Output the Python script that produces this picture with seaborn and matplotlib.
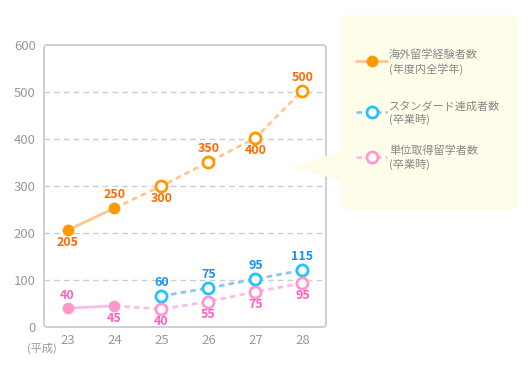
import matplotlib
matplotlib.use("Agg")
import matplotlib.pyplot as plt
import numpy as np
import pandas as pd
import seaborn as sns
from matplotlib.patches import FancyBboxPatch, Polygon
from matplotlib.lines import Line2D

# years (平成)
years = [23, 24, 25, 26, 27, 28]

# 海外留学経験者数 (年度内全学年)
abroad_vals = [206, 253, 300, 351, 402, 503]
abroad_labels = ["205", "250", "300", "350", "400", "500"]
abroad_label_pos = ["below", "above", "below", "above", "below", "above"]

# スタンダード達成者数 (卒業時)  -- starts at 25
std_years = [25, 26, 27, 28]
std_vals = [66, 83, 102, 121]
std_labels = ["60", "75", "95", "115"]
std_label_pos = ["above", "above", "above", "above"]

# 単位取得留学者数 (卒業時)
credit_vals = [40, 45, 38, 54, 75, 93]
credit_labels = ["40", "45", "40", "55", "75", "95"]
credit_label_pos = ["above", "below", "below", "below", "below", "below"]

yticks = [0, 100, 200, 300, 400, 500, 600]
legend_texts = ["海外留学経験者数\n(年度内全学年)",
                "スタンダード達成者数\n(卒業時)",
                "単位取得留学者数\n(卒業時)"]

sns.set_style("white")
plt.rcParams['font.family'] = ['Noto Sans CJK JP', 'DejaVu Sans']

fig = plt.figure(figsize=(5.32, 3.72), dpi=100)
ax = fig.add_axes([44 / 532, 45 / 372, 282 / 532, 282 / 372])
ax.set_facecolor("none")

# legend box with pointer
fig.patches.append(FancyBboxPatch((341 / 532, 1 - 210 / 372), 177 / 532, 195 / 372,
                                  boxstyle="round,pad=0,rounding_size=0.015",
                                  transform=fig.transFigure, facecolor="#fefdea",
                                  edgecolor="none", zorder=0))
fig.patches.append(Polygon([(290 / 532, 1 - 167 / 372), (342 / 532, 1 - 151 / 372),
                            (342 / 532, 1 - 181 / 372)], closed=True,
                           transform=fig.transFigure, facecolor="#fefdea",
                           edgecolor="none", zorder=0))

series = [
    dict(x=years, y=abroad_vals, labels=abroad_labels, pos=abroad_label_pos,
         line="#ffc690", marker="#ff9900", text="#ff6a00", n_solid=2),
    dict(x=std_years, y=std_vals, labels=std_labels, pos=std_label_pos,
         line="#88c8f8", marker="#22c4ff", text="#1a90f0", n_solid=0),
    dict(x=years, y=credit_vals, labels=credit_labels, pos=credit_label_pos,
         line="#ffbbe8", marker="#ff99cc", text="#ff5fc0", n_solid=2),
]

for s in series:
    df = pd.DataFrame({"x": s["x"], "y": s["y"]})
    n = s["n_solid"]
    if n > 1:
        sns.lineplot(data=df.iloc[:n], x="x", y="y", ax=ax, color=s["line"],
                     linewidth=2, zorder=2)
    start = max(n - 1, 0)
    dashed = df.iloc[start:]
    ax.plot(dashed["x"], dashed["y"], color=s["line"], linewidth=2,
            linestyle=(0, (2, 1.5)), zorder=2)
    if n > 0:
        ax.plot(df["x"][:n], df["y"][:n], "o", color=s["marker"], markersize=8.5,
                markeredgewidth=0, zorder=3)
    ax.plot(df["x"][n:], df["y"][n:], "o", markerfacecolor="white",
            markeredgecolor=s["marker"], markersize=8, markeredgewidth=2, zorder=3)
    for xv, yv, lab, p in zip(s["x"], s["y"], s["labels"], s["pos"]):
        off = 9.5 if p == "above" else -9
        ax.annotate(lab, (xv, yv), xytext=(0, off), textcoords="offset points",
                    ha="center", va="center",
                    color=s["text"], fontsize=9, fontweight="bold")

ax.set_xlim(22.5, 28.5)
ax.set_ylim(0, 600)
ax.set_xticks(years)
ax.set_xticklabels([str(y) for y in years])
ax.set_xticks([23.5, 24.5, 25.5, 26.5, 27.5], minor=True)
ax.set_yticks(yticks)
ax.tick_params(axis="both", which="major", length=0, colors="#999999", labelsize=9.5)
ax.tick_params(axis="x", which="major", pad=5)
ax.tick_params(axis="y", which="major", pad=6)
ax.tick_params(axis="x", which="minor", length=4, direction="in", color="#cccccc", width=1)
ax.set_xlabel("")
ax.set_ylabel("")
for yv in yticks[1:-1]:
    ax.axhline(yv, color="#cccccc", linewidth=1, linestyle=(0, (4, 3)), zorder=1)
for sp in ax.spines.values():
    sp.set_visible(False)
ax.add_patch(FancyBboxPatch((0, 0), 1, 1, boxstyle="round,pad=0,rounding_size=0.012",
                            transform=ax.transAxes, facecolor="none",
                            edgecolor="#cccccc", linewidth=1.3, clip_on=False, zorder=1))
fig.text(57 / 532, 1 - 348 / 372, "(平成)", color="#999999", fontsize=8,
         ha="right", va="center")

# legend
leg_styles = [
    dict(line="#ffc690", marker="#ff9900", filled=True, ls="-"),
    dict(line="#88c8f8", marker="#22c4ff", filled=False, ls=(0, (2, 1.5))),
    dict(line="#ffbbe8", marker="#ff99cc", filled=False, ls=(0, (2, 1.5))),
]
leg_y = [61, 112, 157]
for st, yy, txt in zip(leg_styles, leg_y, legend_texts):
    yf = 1 - yy / 372
    fig.add_artist(Line2D([356 / 532, 387 / 532], [yf, yf], color=st["line"],
                          linewidth=2, linestyle=st["ls"], transform=fig.transFigure))
    fig.add_artist(Line2D([372 / 532], [yf], marker="o", transform=fig.transFigure,
                          markerfacecolor=st["marker"] if st["filled"] else "white",
                          markeredgecolor=st["marker"],
                          markersize=8.5 if st["filled"] else 8,
                          markeredgewidth=0 if st["filled"] else 2))
    fig.text(389 / 532, 1 - (yy + 1) / 372, txt, color="#888888", fontsize=8,
             ha="left", va="center", linespacing=1.3)

fig.savefig("out.png", dpi=100)
